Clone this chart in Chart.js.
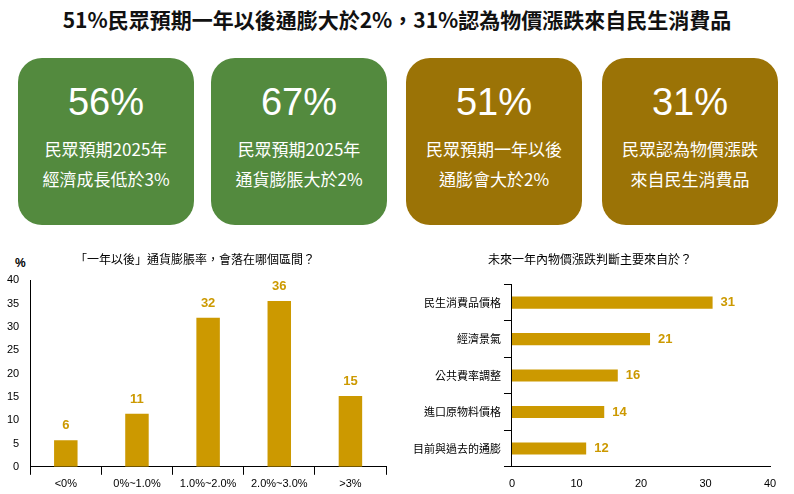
<!DOCTYPE html>
<html><head><meta charset="utf-8">
<script src="https://cdn.jsdelivr.net/npm/chart.js@4/dist/chart.umd.min.js"></script>
<style>
body{margin:0;width:794px;height:494px;background:#fff;font-family:"Noto Sans CJK TC",sans-serif;position:relative;overflow:hidden}
#title{position:absolute;top:4px;left:0;width:794px;text-align:center;font-weight:bold;font-size:21px;color:#111}
.card{position:absolute;top:58px;width:176px;height:167px;border-radius:24px;color:#fff;text-align:center}
.card .n{font-family:Arial,"Liberation Sans",sans-serif;font-size:38px;margin-top:22px;line-height:44px}
.card .t{font-size:17px;line-height:30px;margin-top:10px}
.g{background:#538a3e}.o{background:#9b7306}
#c1{position:absolute;left:0;top:248px}
#c2{position:absolute;left:400px;top:248px}
#pct{position:absolute;left:15px;top:256px;font-size:12px;font-family:Arial,"Liberation Sans";font-weight:bold}
</style></head><body>
<div id="title">51%民眾預期一年以後通膨大於2%，31%認為物價漲跌來自民生消費品</div>
<div class="card g" style="left:18px"><div class="n">56%</div><div class="t">民眾預期2025年<br>經濟成長低於3%</div></div>
<div class="card g" style="left:211px"><div class="n">67%</div><div class="t">民眾預期2025年<br>通貨膨脹大於2%</div></div>
<div class="card o" style="left:406px"><div class="n">51%</div><div class="t">民眾預期一年以後<br>通膨會大於2%</div></div>
<div class="card o" style="left:602px"><div class="n">31%</div><div class="t">民眾認為物價漲跌<br>來自民生消費品</div></div>
<div id="pct">%</div>
<canvas id="c1" width="400" height="246"></canvas>
<canvas id="c2" width="394" height="246"></canvas>
<script>
const cats1=["<0%","0%~1.0%","1.0%~2.0%","2.0%~3.0%",">3%"];
const vals1=[5.7,11.4,32,35.6,15.2];
const cats2=["民生消費品價格","經濟景氣","公共費率調整","進口原物料價格","目前與過去的通膨"];
const vals2=[31.1,21.4,16.4,14.3,11.5];
const gold="#cc9900";
const lbl={id:"lbl",afterDatasetsDraw(c){const ctx=c.ctx;const horiz=c.options.indexAxis==="y";
 c.getDatasetMeta(0).data.forEach((b,i)=>{const v=Math.round(c.data.datasets[0].data[i]);ctx.save();ctx.fillStyle=gold;ctx.font="bold 13px Arial, Liberation Sans";
 if(horiz){ctx.textAlign="left";ctx.textBaseline="middle";ctx.fillText(v,b.x+8,b.y);}else{ctx.textAlign="center";ctx.textBaseline="bottom";ctx.fillText(v,b.x,b.y-8);}ctx.restore();});}};
Chart.defaults.font.family="Arial, 'Liberation Sans', 'Noto Sans CJK TC'";
Chart.defaults.color="#000";
const tf={family:"'Noto Sans CJK TC'",size:12,weight:"normal"};
new Chart(document.getElementById("c1"),{type:"bar",plugins:[lbl],
 data:{labels:cats1,datasets:[{data:vals1,backgroundColor:gold,categoryPercentage:0.6,barPercentage:0.55}]},
 options:{responsive:false,animation:false,layout:{padding:{left:4,right:14,top:0}},
 plugins:{legend:{display:false},tooltip:{enabled:false},title:{display:true,text:"「一年以後」通貨膨脹率，會落在哪個區間？",font:tf,color:"#000",padding:{top:4,bottom:14}}},
 scales:{y:{min:0,max:40,ticks:{stepSize:5,font:{size:11}},grid:{display:false},border:{color:"#000"}},
 x:{grid:{display:true,drawOnChartArea:false,offset:true,color:"#000"},ticks:{font:{size:11}},border:{color:"#000"}}}}});
new Chart(document.getElementById("c2"),{type:"bar",plugins:[lbl],
 data:{labels:cats2,datasets:[{data:vals2,backgroundColor:gold,categoryPercentage:1,barPercentage:0.33}]},
 options:{indexAxis:"y",responsive:false,animation:false,layout:{padding:{left:10,right:24}},
 plugins:{legend:{display:false},tooltip:{enabled:false},title:{display:true,text:"未來一年內物價漲跌判斷主要來自於？",font:tf,color:"#000",padding:{top:4,bottom:18}}},
 scales:{x:{min:0,max:40,ticks:{stepSize:10,font:{size:11}},grid:{display:false},border:{color:"#000"}},
 y:{grid:{display:true,drawOnChartArea:false,offset:true,color:"#000"},ticks:{font:{family:"'Noto Sans CJK TC'",size:11}},border:{color:"#000"}}}}});
</script></body></html>
